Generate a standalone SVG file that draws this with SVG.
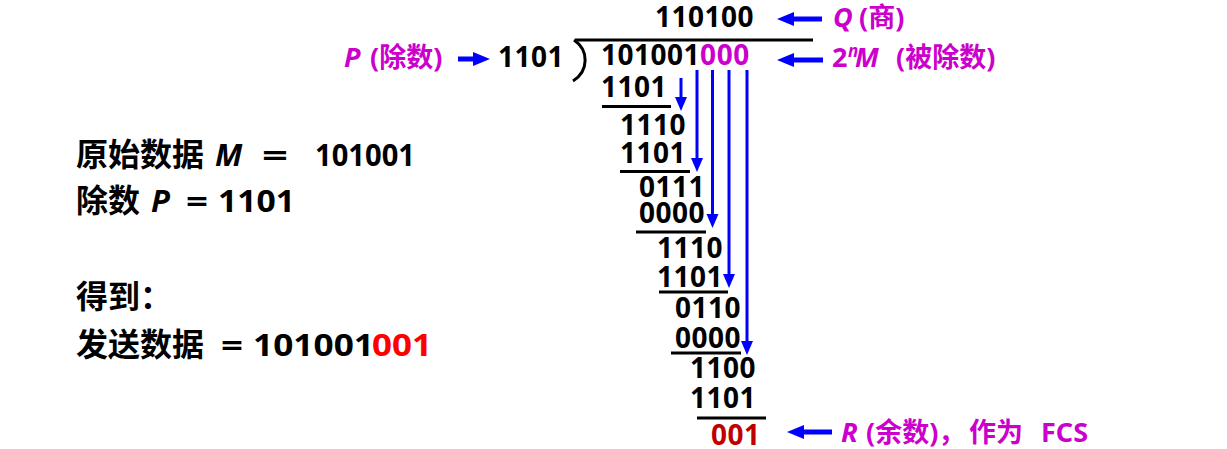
<svg xmlns="http://www.w3.org/2000/svg" width="1227" height="449" viewBox="0 0 1227 449">
<defs>
<style>
text{font-family:"Noto Sans","Noto Sans CJK SC",sans-serif;font-weight:bold;}
.d{font-size:28px;fill:#000;letter-spacing:0.5px;}
.lbl{font-size:27px;fill:#CC00CC;}
.it{font-style:italic;}
.left{font-family:"Noto Sans CJK SC",sans-serif;font-size:32px;fill:#000;}
.ld{font-family:"Noto Sans","Noto Sans CJK SC",sans-serif;font-size:31px;}
text.m,tspan.m{fill:#CC00CC;}
text.rem{fill:#C00000;}
text.red{fill:#FF0000;}
.rule{stroke:#000;stroke-width:3;fill:none;}
.va{stroke:#0000FF;stroke-width:3;fill:none;marker-end:url(#hv);}
.ha{stroke:#0000FF;stroke-width:5;fill:none;marker-end:url(#hh);}
</style>
<marker id="hv" markerUnits="userSpaceOnUse" markerWidth="16" markerHeight="14" viewBox="0 -7 16 14" refX="4" refY="0" orient="auto">
<path d="M0,-6 L14,0 L0,6 z" fill="#0000FF"/>
</marker>
<marker id="hh" markerUnits="userSpaceOnUse" markerWidth="18" markerHeight="16" viewBox="0 -8 18 16" refX="5" refY="0" orient="auto">
<path d="M0,-7 L17,0 L0,7 z" fill="#0000FF"/>
</marker>
</defs>
<rect width="1227" height="449" fill="#fff"/>

<g id="given">
<text class="left" x="76" y="166">原始数据</text>
<text class="left ld it" x="215" y="166">M</text>
<text class="left ld" x="262" y="166" textLength="26" lengthAdjust="spacingAndGlyphs">=</text>
<text class="left ld" x="315" y="166" textLength="100" lengthAdjust="spacingAndGlyphs">101001</text>
<text class="left" x="76" y="212">除数</text>
<text class="left ld it" x="151" y="212">P</text>
<text class="left ld" x="186" y="212" textLength="22" lengthAdjust="spacingAndGlyphs">=</text>
<text class="left ld" x="218" y="212" textLength="77" lengthAdjust="spacingAndGlyphs">1101</text>
</g>
<g id="result">
<text class="left" x="76" y="308">得到：</text>
<text class="left" x="76" y="356">发送数据</text>
<text class="left ld" x="221" y="356" textLength="22" lengthAdjust="spacingAndGlyphs">=</text>
<text class="left ld" x="253" y="356" textLength="121" lengthAdjust="spacingAndGlyphs">101001</text>
<text class="left ld red" x="372" y="356" textLength="60" lengthAdjust="spacingAndGlyphs">001</text>
</g>

<g id="division">
<path class="rule" d="M575,40 H813"/>
<path class="rule" d="M574,40 C589,50 589,71 573,81"/>
<text class="d" x="655" y="27">110100</text>
<text class="d" x="601" y="65">101001<tspan class="m">000</tspan></text>
<text class="d" x="601" y="97">1101</text>
<path class="rule" d="M602,106.5 H671"/>
<text class="d" x="620" y="135">1110</text>
<text class="d" x="620" y="163">1101</text>
<path class="rule" d="M620,171.5 H690"/>
<text class="d" x="639" y="197">0111</text>
<text class="d" x="639" y="223">0000</text>
<path class="rule" d="M636,232 H706"/>
<text class="d" x="657" y="258">1110</text>
<text class="d" x="657" y="287">1101</text>
<path class="rule" d="M659,292 H728"/>
<text class="d" x="675" y="318">0110</text>
<text class="d" x="675" y="348">0000</text>
<path class="rule" d="M671,353 H741"/>
<text class="d" x="690" y="378">1100</text>
<text class="d" x="690" y="408">1101</text>
<path class="rule" d="M697,418 H766"/>
<text class="d rem" x="711" y="445">001</text>
</g>

<g id="label-q">
<text class="lbl" y="27"><tspan class="it" x="833">Q</tspan><tspan x="859">(商)</tspan></text>
</g>
<g id="label-m">
<text class="lbl" y="67"><tspan x="832">2</tspan><tspan class="it" x="848" y="57" font-size="17">n</tspan><tspan class="it" x="855" y="67">M</tspan><tspan x="896">(被除数)</tspan></text>
</g>
<g id="label-p">
<text class="lbl" y="67"><tspan class="it" x="344">P</tspan><tspan x="370">(除数)</tspan></text>
<text class="d" x="498" y="67">1101</text>
</g>
<g id="label-r">
<text class="lbl" y="442"><tspan class="it" x="841">R</tspan><tspan x="866">(余数)，</tspan><tspan x="969">作为</tspan><tspan x="1041">FCS</tspan></text>
</g>

<g id="connectors">
<line class="ha" x1="822" y1="19" x2="789" y2="19"/>
<line class="ha" x1="823" y1="60" x2="789" y2="60"/>
<line class="ha" x1="832" y1="432" x2="799" y2="432"/>
<line class="ha" x1="458" y1="59" x2="478" y2="59"/>
<line class="va" x1="681" y1="78" x2="681" y2="101"/>
<line class="va" x1="697" y1="70" x2="697" y2="162"/>
<line class="va" x1="712.5" y1="70" x2="712.5" y2="218"/>
<line class="va" x1="729" y1="70" x2="729" y2="278"/>
<line class="va" x1="747" y1="70" x2="747" y2="345"/>
</g>
</svg>
